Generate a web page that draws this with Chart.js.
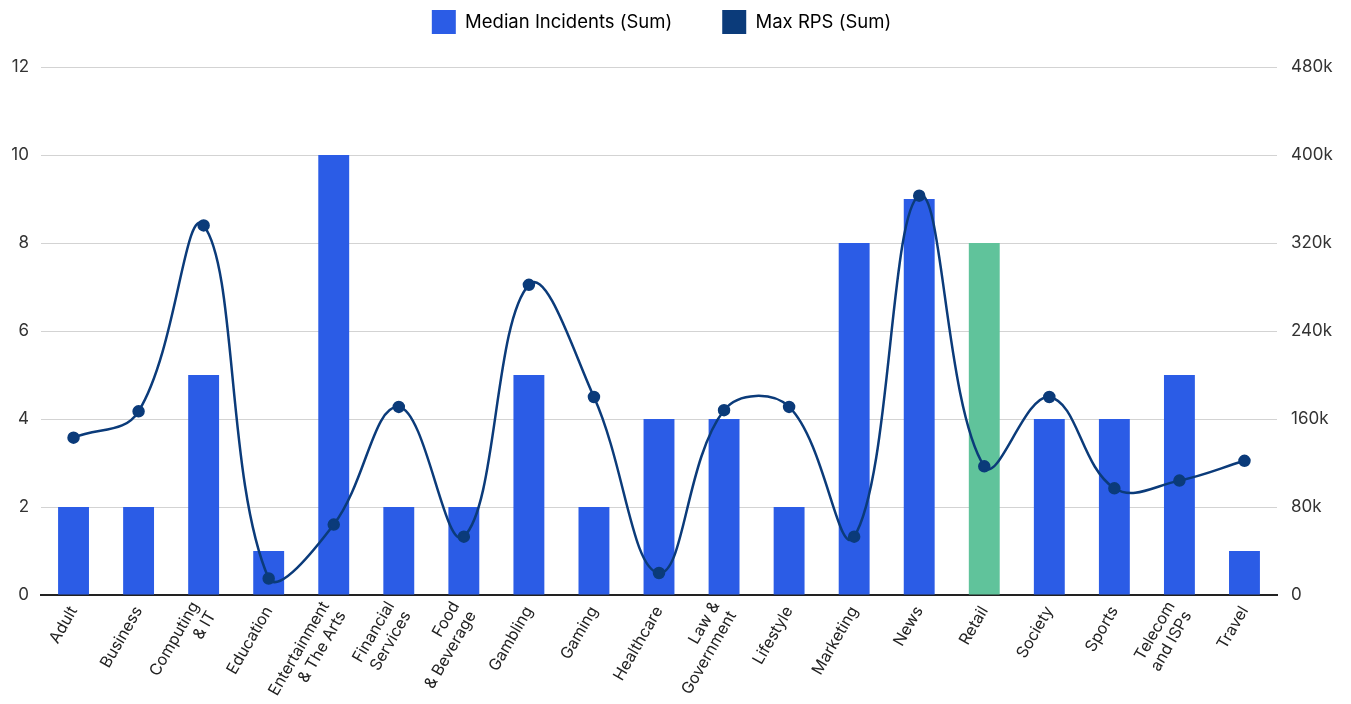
<!DOCTYPE html>
<html>
<head>
<meta charset="utf-8">
<script src="https://cdn.jsdelivr.net/npm/chart.js@4.4.1/dist/chart.umd.min.js"></script>
<style>
  html, body { margin: 0; padding: 0; background: #ffffff; }
  #wrap { width: 1351px; height: 704px; position: relative; }
</style>
</head>
<body>
<div id="wrap"><canvas id="c"></canvas></div>
<script>
// Industry categories (multi-line where the label wraps)
const categories = [
  'Adult', 'Business', ['Computing', '& IT'], 'Education',
  ['Entertainment', '& The Arts'], ['Financial', 'Services'],
  ['Food', '& Beverage'], 'Gambling', 'Gaming', 'Healthcare',
  ['Law &', 'Government'], 'Lifestyle', 'Marketing', 'News', 'Retail',
  'Society', 'Sports', ['Telecom', 'and ISPs'], 'Travel'
];

// Median incidents per industry (left axis)
const medianIncidents = [2, 2, 5, 1, 10, 2, 2, 5, 2, 4, 4, 2, 8, 9, 8, 4, 4, 5, 1];

// Max requests per second per industry (right axis)
const maxRps = [143000, 167000, 336000, 15000, 64000, 171000, 53000, 282000, 180000, 20000,
                168000, 171000, 53000, 363000, 117000, 180000, 97000, 104000, 122000];

// Axis tick values
const leftTicks = [0, 2, 4, 6, 8, 10, 12];
const rightTicks = [0, 80000, 160000, 240000, 320000, 400000, 480000];

const highlighted = 'Retail';
const BAR = '#2b5ce6';
const BAR_HI = '#60c39b';
const LINE = '#0b3b7a';

const barColors = categories.map(c => (c === highlighted ? BAR_HI : BAR));

// Legend row sits near the top, slightly left of centre, with room below it
const legendSpacer = {
  id: 'legendSpacer',
  beforeInit(chart) {
    const lg = chart.legend;
    if (!lg) return;
    const fit = lg.fit;
    lg.fit = function () {
      fit.call(this);
      this.height = 107;
    };
    const draw = lg.draw;
    lg.draw = function () {
      const ctx = this.ctx;
      ctx.save();
      ctx.translate(-14, 0);
      draw.call(this);
      ctx.restore();
    };
  }
};

// Centre wrapped category labels on their tick instead of hanging below it
function centreWrappedLabels(scale) {
  if (scale._centredLabels) return;
  scale._centredLabels = true;
  const compute = scale._computeLabelItems;
  scale._computeLabelItems = function (chartArea) {
    const items = compute.call(this, chartArea);
    items.forEach(item => {
      const lines = Array.isArray(item.label) ? item.label.length : 1;
      if (lines > 1) {
        item.textOffset -= (lines - 1) * item.font.lineHeight / 2;
      }
    });
    return items;
  };
}

const fontFamily = 'Inter, "Noto Sans", sans-serif';

new Chart(document.getElementById('c'), {
  data: {
    labels: categories,
    datasets: [
      {
        type: 'line',
        label: 'Max RPS (Sum)',
        data: maxRps,
        yAxisID: 'y1',
        borderColor: LINE,
        backgroundColor: LINE,
        borderWidth: 2.5,
        pointRadius: 5,
        pointBackgroundColor: LINE,
        pointBorderColor: LINE,
        tension: 0.4,
        fill: false,
        order: 0
      },
      {
        type: 'bar',
        label: 'Median Incidents (Sum)',
        data: medianIncidents,
        yAxisID: 'y',
        backgroundColor: barColors,
        borderWidth: 0,
        categoryPercentage: 1,
        barPercentage: 0.475,
        order: 1
      }
    ]
  },
  plugins: [legendSpacer],
  options: {
    responsive: true,
    maintainAspectRatio: false,
    animation: false,
    layout: { padding: { top: -40, left: 0, right: 0, bottom: 0 } },
    plugins: {
      tooltip: { enabled: false },
      legend: {
        position: 'top',
        labels: {
          boxWidth: 24,
          boxHeight: 24,
          padding: 50,
          color: '#606060',
          font: { family: fontFamily, size: 18.5 },
          generateLabels(chart) {
            return chart.data.datasets.map((ds, i) => ({
              text: ds.label,
              fillStyle: ds.type === 'bar' ? BAR : LINE,
              strokeStyle: ds.type === 'bar' ? BAR : LINE,
              lineWidth: 0,
              hidden: false,
              datasetIndex: i
            })).reverse();
          }
        }
      }
    },
    scales: {
      x: {
        grid: { display: false, drawTicks: false },
        border: { display: true, color: '#222222', width: 2 },
        ticks: {
          color: '#222222',
          font: { family: fontFamily, size: 16 },
          maxRotation: 60,
          minRotation: 60,
          autoSkip: false,
          padding: 8
        },
        afterUpdate: centreWrappedLabels,
        afterFit(scale) { scale.height = 109; }
      },
      y: {
        position: 'left',
        min: 0,
        max: 12,
        afterBuildTicks(scale) { scale.ticks = leftTicks.map(v => ({ value: v })); },
        grid: { color: '#d3d3d3', lineWidth: 1, drawTicks: false },
        border: { display: false },
        ticks: {
          color: '#333333',
          font: { family: fontFamily, size: 17 },
          padding: 12
        },
        afterFit(scale) { scale.width = 41; }
      },
      y1: {
        position: 'right',
        min: 0,
        max: 480000,
        afterBuildTicks(scale) { scale.ticks = rightTicks.map(v => ({ value: v })); },
        grid: { display: false, drawTicks: false },
        border: { display: false },
        ticks: {
          color: '#333333',
          font: { family: fontFamily, size: 17 },
          padding: 14,
          callback: v => (v === 0 ? '0' : (v / 1000) + 'k')
        },
        afterFit(scale) { scale.width = 74; }
      }
    }
  }
});
</script>
</body>
</html>
